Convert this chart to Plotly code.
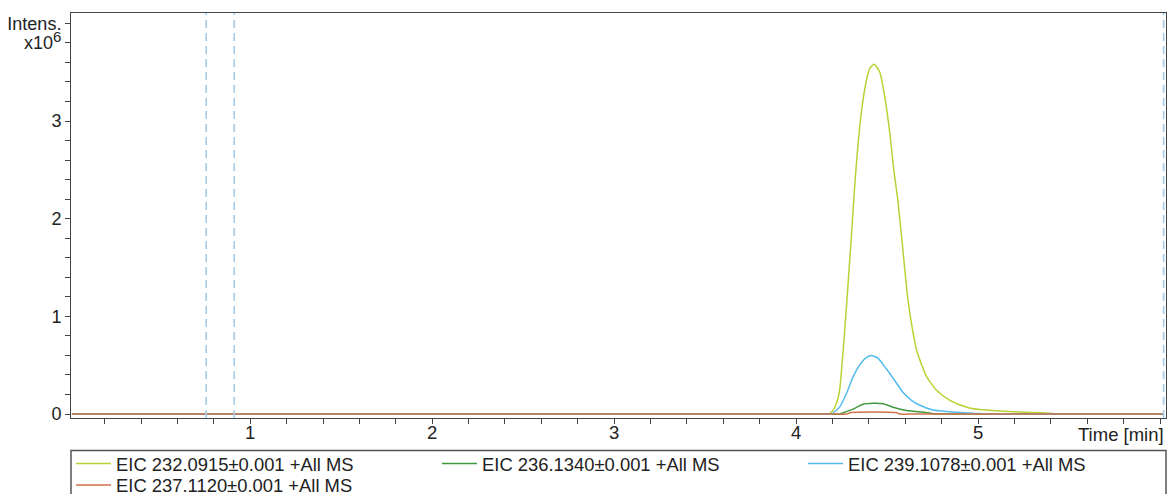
import plotly.graph_objects as go

# ---- data (time in min, intensity in x10^6) ----
t_232 = [0.02, 2.0, 4.0, 4.12, 4.178, 4.20, 4.22, 4.239, 4.252, 4.266, 4.286, 4.305, 4.323, 4.341,
         4.360, 4.387, 4.405, 4.429, 4.460, 4.487, 4.515, 4.537, 4.559, 4.586, 4.614, 4.641,
         4.663, 4.691, 4.718, 4.773, 4.845, 4.938, 5.009, 5.119, 5.229, 5.35, 5.41, 5.43,
         5.5, 5.6, 6.02]
i_232 = [0.0, 0.0, 0.0, 0.0, 0.0, 0.03, 0.10, 0.24, 0.50, 0.82, 1.34, 1.85, 2.36, 2.77,
         3.11, 3.42, 3.54, 3.58, 3.50, 3.25, 2.88, 2.50, 2.19, 1.70, 1.18, 0.85,
         0.65, 0.50, 0.38, 0.24, 0.14, 0.07, 0.045, 0.03, 0.02, 0.012, 0.005, 0.0,
         0.0, 0.0, 0.0]

t_236 = [0.02, 2.0, 4.0, 4.15, 4.239, 4.27, 4.313, 4.368, 4.423, 4.478, 4.533, 4.607, 4.735,
         4.76, 4.85, 5.0, 6.02]
i_236 = [0.0, 0.0, 0.0, 0.0, 0.0, 0.02, 0.05, 0.10, 0.11, 0.105, 0.07, 0.036, 0.01,
         0.0, 0.0, 0.0, 0.0]

t_239 = [0.02, 2.0, 4.0, 4.12, 4.195, 4.204, 4.239, 4.277, 4.313, 4.349, 4.387, 4.414, 4.451,
         4.497, 4.543, 4.588, 4.634, 4.680, 4.753, 4.862, 5.009, 5.05, 5.15, 5.3, 6.02]
i_239 = [0.0, 0.0, 0.0, 0.0, 0.0, 0.01, 0.07, 0.21, 0.38, 0.50, 0.58, 0.60, 0.57,
         0.46, 0.34, 0.22, 0.14, 0.09, 0.04, 0.02, 0.005, 0.0, 0.0, 0.0, 0.0]

t_237 = [0.02, 2.0, 4.0, 4.2, 4.28, 4.30, 4.55, 4.57, 4.65, 4.8, 6.02]
i_237 = [0.0, 0.0, 0.0, 0.0, 0.0, 0.015, 0.015, 0.0, 0.0, 0.0, 0.0]

series_names = ["EIC 232.0915±0.001 +All MS", "EIC 236.1340±0.001 +All MS",
                "EIC 239.1078±0.001 +All MS", "EIC 237.1120±0.001 +All MS"]
series_colors = ["#b6d335", "#3f9a3f", "#55bbee", "#d0714a"]
series_legend = ["legend", "legend", "legend", "legend2"]

marker_times = [0.758, 0.912, 6.02]

x_tickvals = [1, 2, 3, 4, 5]
y_tickvals = [0, 1, 2, 3, 3.8, 4.0]
y_ticktext = ["0", "1", "2", "3",
              "x10<sup><span style='font-size:15px'>6</span></sup>", "Intens."]

FONT = "Liberation Sans, Arial, sans-serif"
TXT = "#222222"
AX = "#444444"

fig = go.Figure()
for t, i, name, col, lg in zip([t_232, t_236, t_239, t_237], [i_232, i_236, i_239, i_237],
                               series_names, series_colors, series_legend):
    fig.add_trace(go.Scatter(x=t, y=i, mode="lines", name=name, legend=lg,
                             line=dict(color=col, width=1.5, shape="spline", smoothing=0.6)))

for mt in marker_times:
    fig.add_shape(type="line", xref="x", yref="paper", x0=mt, x1=mt, y0=0, y1=1,
                  line=dict(color="#a4cbe8", width=1.6, dash="8px,5px"), layer="above")

# legend frame
fig.add_shape(type="rect", xref="paper", yref="paper", x0=0, x1=1,
              y0=-0.0805, y1=-0.3, line=dict(color="#555555", width=1.5),
              fillcolor="rgba(0,0,0,0)", layer="above")

fig.add_annotation(text="Time [min]", xref="paper", yref="paper", x=1, y=0,
                   xanchor="right", yanchor="top", yshift=-4, showarrow=False,
                   font=dict(family=FONT, size=18.5, color=TXT))

leg_common = dict(orientation="h", xanchor="left", yanchor="top",
                  borderwidth=0, bgcolor="rgba(0,0,0,0)",
                  entrywidth=316, entrywidthmode="pixels", itemwidth=35,
                  font=dict(family=FONT, size=18.4, color=TXT), traceorder="normal")

fig.update_layout(
    width=1169, height=494,
    margin=dict(l=71, r=3, t=13, b=76, autoexpand=False),
    paper_bgcolor="white", plot_bgcolor="white",
    font=dict(family=FONT, size=18, color=TXT),
    showlegend=True,
    legend=dict(x=0.0, y=-0.067, **leg_common),
    legend2=dict(x=0.0, y=-0.120, **leg_common),
    xaxis=dict(range=[0.015, 6.033], showgrid=False, zeroline=False,
               showline=True, linecolor=AX, linewidth=1, mirror=True,
               tickvals=x_tickvals, ticks="outside", ticklen=5, tickcolor=AX,
               ticklabelstandoff=-7, tickfont=dict(size=18.5),
               minor=dict(dtick=0.2, tick0=0, ticks="outside", ticklen=5, tickcolor=AX)),
    yaxis=dict(range=[-0.041, 4.106], showgrid=False, zeroline=False,
               showline=True, linecolor=AX, linewidth=1, mirror=True,
               tickvals=y_tickvals, ticktext=y_ticktext, ticks="outside", ticklen=5,
               tickcolor=AX, tickfont=dict(size=18),
               minor=dict(dtick=0.2, tick0=0, ticks="outside", ticklen=5, tickcolor=AX)),
)

fig.write_html("out.html")
